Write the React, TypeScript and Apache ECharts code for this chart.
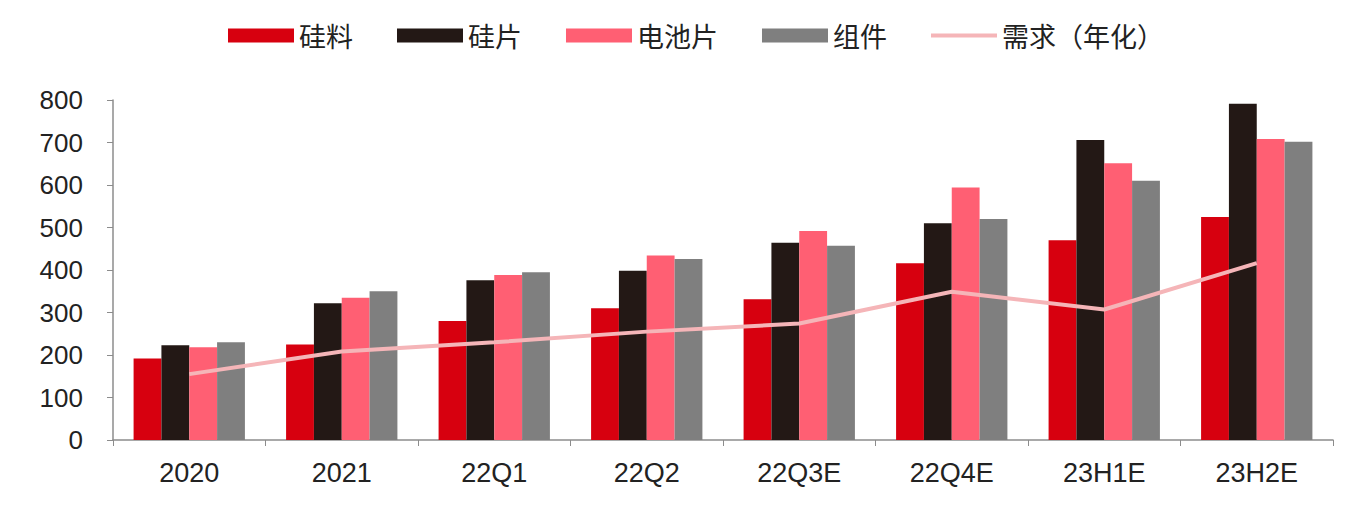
import React, { useEffect, useRef } from "react";
import * as echarts from "echarts";

const categories = ["2020", "2021", "22Q1", "22Q2", "22Q3E", "22Q4E", "23H1E", "23H2E"];
const siliconMaterial = [192, 225, 280, 310, 331, 416, 470, 525];
const wafer = [223, 322, 376, 398, 464, 510, 706, 791];
const cell = [218, 335, 388, 434, 492, 594, 651, 708];
const moduleVals = [230, 350, 395, 426, 457, 520, 610, 702];
const demand = [155, 208, 230, 255, 274, 349, 307, 416];
const yTicks = [0, 100, 200, 300, 400, 500, 600, 700, 800];

export default function App() {
  const ref = useRef<HTMLDivElement>(null);
  useEffect(() => {
    if (!ref.current) return;
    const chart = echarts.init(ref.current, undefined, { renderer: "svg" });
    const font = "'Liberation Sans', Arial, 'Noto Sans CJK SC', sans-serif";
    const bar = (name: string, data: number[], color: string) => ({
      name,
      type: "bar",
      data,
      barGap: "0%",
      barCategoryGap: "27%",
      itemStyle: { color },
    });
    chart.setOption({
      animation: false,
      backgroundColor: "#ffffff",
      textStyle: { fontFamily: font },
      legend: {
        top: 9,
        left: 215,
        itemWidth: 66,
        itemHeight: 14,
        itemGap: 44,
        textStyle: { fontSize: 27, color: "#222", fontFamily: "'Noto Sans CJK SC', sans-serif" },
        data: [
          { name: "硅料", icon: "rect" },
          { name: "硅片", icon: "rect" },
          { name: "电池片", icon: "rect" },
          { name: "组件", icon: "rect" },
          { name: "需求（年化）", icon: "path://M0 0 H66 V4 H0 Z" },
        ],
      },
      grid: { left: 105, right: 21, top: 92, bottom: 74 },
      xAxis: {
        type: "category",
        data: categories,
        boundaryGap: true,
        axisLine: { lineStyle: { color: "#8c8c8c", width: 1.5 } },
        axisTick: { show: true, length: 6, inside: false, lineStyle: { color: "#8c8c8c" } },
        axisLabel: { fontSize: 27, color: "#222", margin: 19, fontFamily: font },
      },
      yAxis: {
        type: "value",
        min: yTicks[0],
        max: yTicks[yTicks.length - 1],
        interval: 100,
        splitLine: { show: false },
        axisLine: { show: true, lineStyle: { color: "#8c8c8c", width: 1.5 } },
        axisTick: { show: true, length: 6, lineStyle: { color: "#8c8c8c" } },
        axisLabel: { fontSize: 26, color: "#222", margin: 30, fontFamily: font },
      },
      series: [
        bar("硅料", siliconMaterial, "#d7000f"),
        bar("硅片", wafer, "#231815"),
        bar("电池片", cell, "#ff5f73"),
        bar("组件", moduleVals, "#7f7f7f"),
        {
          name: "需求（年化）",
          type: "line",
          data: demand,
          symbol: "none",
          lineStyle: { color: "#f5b5b8", width: 4 },
          itemStyle: { color: "#f5b5b8" },
          z: 5,
        },
      ],
    });
    return () => chart.dispose();
  }, []);
  return <div ref={ref} style={{ width: 1346, height: 506 }} />;
}
